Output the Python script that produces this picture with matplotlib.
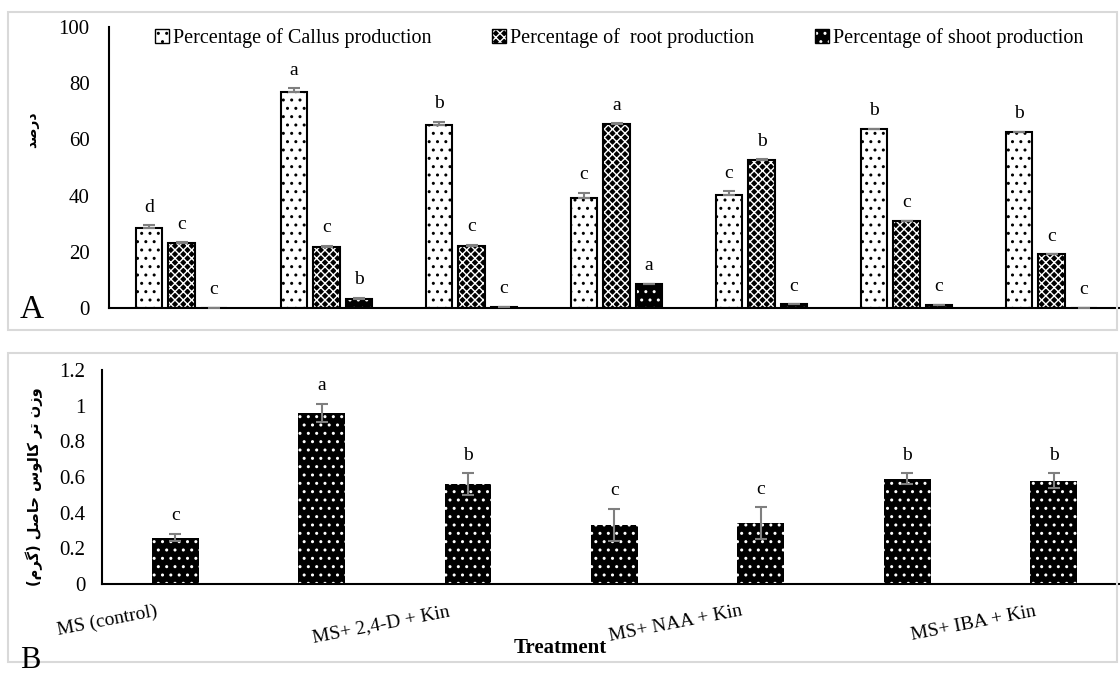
import numpy as np
import matplotlib
matplotlib.use("Agg")
import matplotlib.pyplot as plt
from matplotlib.patches import Patch, Rectangle
from matplotlib.legend_handler import HandlerTuple
from matplotlib.transforms import ScaledTranslation

plt.rcParams['font.family'] = ['Liberation Serif', 'DejaVu Serif']
plt.rcParams['hatch.linewidth'] = 1.0

# ---- data ----
shown_labels = ["MS (control)", "", "MS+ 2,4-D + Kin", "", "MS+ NAA + Kin", "", "MS+ IBA + Kin"]

callus = [28.4, 76.7, 65.0, 39.2, 40.3, 63.7, 62.6]
callus_err = [1.0, 1.5, 1.3, 1.7, 1.2, 0, 0]
callus_let = ["d", "a", "b", "c", "c", "b", "b"]

root = [23.1, 21.7, 22.1, 65.4, 52.6, 31.0, 19.1]
root_err = [0.3, 0.3, 0.3, 0.3, 0.3, 0, 0]
root_let = ["c", "c", "c", "a", "b", "c", "c"]

shoot = [0.0, 3.3, 0.3, 8.5, 1.3, 1.2, 0.0]
shoot_err = [0, 0.2, 0, 0.2, 0, 0, 0]
shoot_let = ["c", "b", "c", "a", "c", "c", "c"]

fresh_wt = [0.26, 0.96, 0.56, 0.33, 0.34, 0.59, 0.58]
fresh_err = [0.02, 0.05, 0.06, 0.09, 0.09, 0.03, 0.04]
fresh_let = ["c", "a", "b", "c", "c", "b", "b"]

legend_labels = ["Percentage of Callus production", "Percentage of  root production",
                 "Percentage of shoot production"]

# Persian labels, pre-shaped (presentation forms) in visual order
ylab_a = "\uFEAA\uFEBB\uFEAD\uFEA9"  # درصد
ylab_b = ("(\uFEE1\uFEAE\uFB94) \uFEDE\uFEBB\uFE8E\uFEA3 \uFEB1\uFEEE\uFEDF\uFE8E\uFB90 "
          "\uFEAE\uFE97 \uFEE5\uFEAF\uFEED")  # وزن تر کالوس حاصل (گرم)

fig = plt.figure(figsize=(11.2, 6.75), dpi=100)

# panel frames
fig.patches.append(Rectangle((8/1120, 1-330/675), 1109/1120, 318/675, transform=fig.transFigure,
                             fill=False, edgecolor='#d9d9d9', lw=1.5))
fig.patches.append(Rectangle((8/1120, 1-662/675), 1109/1120, 309/675, transform=fig.transFigure,
                             fill=False, edgecolor='#d9d9d9', lw=1.5))

x = np.arange(len(callus))
err_kw = dict(ecolor='#7f7f7f', elinewidth=1.5, capsize=4, capthick=1.5)

# ---- panel A ----
ax = fig.add_axes([109/1120, 1-308/675, 1015/1120, 281/675])
w = 0.185
off = 0.224
styles = [
    dict(face='white', hatch='..', hcol='black'),
    dict(face='black', hatch='xxxx', hcol='white'),
    dict(face='black', hatch='..', hcol='white'),
]
series = [(callus, callus_err, callus_let), (root, root_err, root_let), (shoot, shoot_err, shoot_let)]
handles = []
for i, ((vals, errs, lets), st) in enumerate(zip(series, styles)):
    pos = x + (i - 1) * off
    ax.bar(pos, vals, w, color=st['face'], edgecolor=st['hcol'], hatch=st['hatch'], lw=0, zorder=2)
    ax.bar(pos, vals, w, fill=False, edgecolor='black', lw=1.5, zorder=3)
    ax.errorbar(pos, vals, yerr=[np.zeros(len(errs)), errs], fmt='none', zorder=4, **err_kw)
    for p, v, e, t in zip(pos, vals, errs, lets):
        ax.annotate(t, (p, v + e), xytext=(0, 7), textcoords='offset points',
                    ha='center', va='bottom', fontsize=14)
    h1 = Patch(facecolor=st['face'], edgecolor=st['hcol'], hatch=st['hatch'], lw=0)
    h2 = Patch(fill=False, edgecolor='black', lw=1)
    handles.append((h1, h2))

ax.set_xlim(-0.5, 6.5)
ax.set_ylim(0, 100)
ax.set_yticks(np.arange(0, 101, 20))
ax.set_xticks([])
ax.tick_params(axis='y', length=0, labelsize=15, pad=14)
for s in ['top', 'right']:
    ax.spines[s].set_visible(False)
ax.spines['left'].set_linewidth(1.5)
ax.spines['bottom'].set_linewidth(1.5)
ax.legend(handles, legend_labels, handler_map={tuple: HandlerTuple(ndivide=1)}, ncol=3,
          loc='center', bbox_to_anchor=(0.5025, 0.962), frameon=False, fontsize=14.5,
          handlelength=0.7, handleheight=0.7, handletextpad=0.2, columnspacing=3.0)
fig.text(32/1120, 1-130/675, ylab_a, rotation=90, ha='center', va='center',
         family=['DejaVu Sans'], fontweight='bold', fontsize=10)
fig.text(20/1120, 1-310/675, "A", ha='left', va='center', fontsize=24)

# ---- panel B ----
bx = fig.add_axes([102/1120, 1-584/675, 1025/1120, 214/675])
bx.bar(x, fresh_wt, 0.32, color='black', edgecolor='white', hatch='..', lw=0, zorder=2)
bx.errorbar(x, fresh_wt, yerr=fresh_err, fmt='none', zorder=4, **err_kw)
for p, v, e, t in zip(x, fresh_wt, fresh_err, fresh_let):
    bx.annotate(t, (p, v + e), xytext=(0, 7), textcoords='offset points',
                ha='center', va='bottom', fontsize=14)
bx.set_xlim(-0.5, 6.5)
bx.set_ylim(0, 1.2)
bx.set_yticks(np.arange(0, 1.21, 0.2))
bx.set_yticklabels(["0", "0.2", "0.4", "0.6", "0.8", "1", "1.2"])
bx.set_xticks(x)
bx.set_xticklabels(shown_labels, rotation=11, ha='right', rotation_mode='anchor')
bx.tick_params(axis='both', length=0, labelsize=15)
bx.tick_params(axis='x', labelsize=14)
bx.tick_params(axis='y', pad=12)
for lbl in bx.get_xticklabels():
    lbl.set_transform(lbl.get_transform() + ScaledTranslation(-20/100, -14/100, fig.dpi_scale_trans))
for s in ['top', 'right']:
    bx.spines[s].set_visible(False)
bx.spines['left'].set_linewidth(1.5)
bx.spines['bottom'].set_linewidth(1.5)
fig.text(560/1120, 1-648/675, "Treatment", ha='center', va='center', fontsize=15, fontweight='bold')
fig.text(34/1120, 1-487/675, ylab_b, rotation=90, ha='center', va='center',
         family=['DejaVu Sans'], fontweight='bold', fontsize=10.5)
fig.text(20/1120, 0.0, "B", ha='left', va='bottom', fontsize=22)

fig.savefig("out.png", dpi=100)
